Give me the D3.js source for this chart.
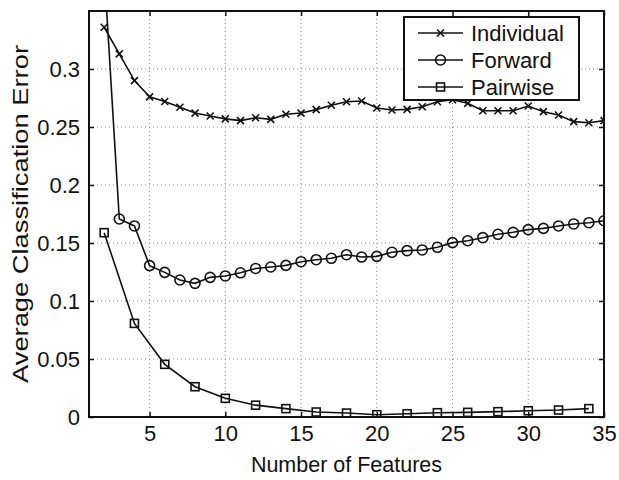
<!DOCTYPE html>
<html>
<head>
<meta charset="utf-8">
<script src="https://cdn.jsdelivr.net/npm/d3@7"></script>
<style>
  html, body { margin: 0; padding: 0; background: #fff; }
  svg { display: block; }
  text { font-family: "Liberation Sans", Arial, Helvetica, sans-serif; fill: #111; }
</style>
</head>
<body>
<svg id="chart" width="619" height="480"></svg>
<script>
// ---- data ----
const features = [2,3,4,5,6,7,8,9,10,11,12,13,14,15,16,17,18,19,20,21,22,23,24,25,26,27,28,29,30,31,32,33,34,35];
const individual = [0.336,0.313,0.290,0.276,0.272,0.267,0.262,0.2595,0.257,0.2555,0.258,0.2566,0.261,0.262,0.265,0.2687,0.2718,0.2724,0.2664,0.2647,0.2652,0.2675,0.2718,0.2735,0.2704,0.264,0.264,0.264,0.2681,0.2632,0.2603,0.2546,0.2537,0.2555];
const forward = [0.386,0.1707,0.1647,0.1305,0.1247,0.1181,0.1152,0.1204,0.1216,0.1243,0.128,0.1293,0.1307,0.1339,0.1356,0.1368,0.1399,0.1379,0.1385,0.142,0.1434,0.144,0.1463,0.1503,0.152,0.1546,0.1575,0.1592,0.1615,0.1626,0.1647,0.1664,0.1675,0.1692];
const pairwiseFeatures = [2,4,6,8,10,12,14,16,18,20,22,24,26,28,30,32,34];
const pairwise = [0.1589,0.0807,0.0454,0.0261,0.0161,0.0102,0.0072,0.0043,0.0034,0.002,0.0028,0.0037,0.004,0.0046,0.0054,0.006,0.0072];
const xTicks = [5,10,15,20,25,30,35];
const yTicks = [0,0.05,0.1,0.15,0.2,0.25,0.3];
const seriesNames = ["Individual","Forward","Pairwise"];
const xLabel = "Number of Features";
const yLabel = "Average Classification Error";

// ---- layout ----
const L = 89, R = 604, T = 11, B = 417;
const svg = d3.select("#chart");
const x = d3.scaleLinear().domain([1, 35]).range([L, R]);
const y = d3.scaleLinear().domain([0, 0.35]).range([B, T]);

svg.append("defs").append("clipPath").attr("id","clip")
  .append("rect").attr("x", L).attr("y", T).attr("width", R - L).attr("height", B - T);

// grid
const grid = svg.append("g");
grid.selectAll(".gx").data(xTicks.filter(d => d < 35)).enter().append("line")
  .attr("x1", d => x(d)).attr("x2", d => x(d)).attr("y1", T).attr("y2", B)
  .attr("stroke", "#888").attr("stroke-width", 1).attr("stroke-dasharray", "1,3");
grid.selectAll(".gy").data(yTicks.filter(d => d > 0)).enter().append("line")
  .attr("y1", d => y(d)).attr("y2", d => y(d)).attr("x1", L).attr("x2", R)
  .attr("stroke", "#888").attr("stroke-width", 1).attr("stroke-dasharray", "1,3");

// axes (ticks inward, MATLAB style)
const fontSize = 22;
const xAxisB = d3.axisBottom(x).tickValues(xTicks).tickSize(-5).tickPadding(8).tickFormat(d3.format("d"));
const xAxisT = d3.axisTop(x).tickValues(xTicks).tickSize(-5).tickFormat("");
const yAxisL = d3.axisLeft(y).tickValues(yTicks).tickSize(-5).tickPadding(9).tickFormat(d => d === 0 ? "0" : String(d));
const yAxisR = d3.axisRight(y).tickValues(yTicks).tickSize(-5).tickFormat("");

function styleAxis(g) {
  g.select(".domain").remove();
  g.selectAll(".tick line").attr("stroke", "#111").attr("stroke-width", 1.5);
  g.selectAll("text").attr("font-size", fontSize).attr("fill", "#111")
    .attr("font-family", "'Liberation Sans', Arial, sans-serif");
}
svg.append("g").attr("transform", `translate(0,${B})`).call(xAxisB).call(styleAxis);
svg.append("g").attr("transform", `translate(0,${T})`).call(xAxisT).call(styleAxis);
svg.append("g").attr("transform", `translate(${L},0)`).call(yAxisL).call(styleAxis);
svg.append("g").attr("transform", `translate(${R},0)`).call(yAxisR).call(styleAxis);

// data
const plot = svg.append("g").attr("clip-path", "url(#clip)");
const line = d3.line().x(d => x(d[0])).y(d => y(d[1]));
const indData = features.map((f, i) => [f, individual[i]]);
const fwdData = features.map((f, i) => [f, forward[i]]);
const pwData = pairwiseFeatures.map((f, i) => [f, pairwise[i]]);

function drawLine(data) {
  plot.append("path").datum(data).attr("d", line)
    .attr("fill", "none").attr("stroke", "#111").attr("stroke-width", 1.6);
}
drawLine(indData); drawLine(fwdData); drawLine(pwData);

function crossMarker(g, cx, cy, s) {
  g.append("path").attr("d", `M${cx-s},${cy-s}L${cx+s},${cy+s}M${cx-s},${cy+s}L${cx+s},${cy-s}`)
    .attr("stroke", "#111").attr("stroke-width", 1.6).attr("fill", "none");
}
function circleMarker(g, cx, cy, r) {
  g.append("circle").attr("cx", cx).attr("cy", cy).attr("r", r)
    .attr("stroke", "#111").attr("stroke-width", 1.6).attr("fill", "none");
}
function squareMarker(g, cx, cy, h) {
  g.append("rect").attr("x", cx - h).attr("y", cy - h).attr("width", 2*h).attr("height", 2*h)
    .attr("stroke", "#111").attr("stroke-width", 1.6).attr("fill", "none");
}
indData.forEach(d => { if (d[1] <= 0.35) crossMarker(plot, x(d[0]), y(d[1]), 3.5); });
fwdData.forEach(d => { if (d[1] <= 0.35) circleMarker(plot, x(d[0]), y(d[1]), 5); });
pwData.forEach(d => squareMarker(plot, x(d[0]), y(d[1]), 4));

// frame
svg.append("rect").attr("x", L).attr("y", T).attr("width", R - L).attr("height", B - T)
  .attr("fill", "none").attr("stroke", "#111").attr("stroke-width", 2);

// legend
const lg = svg.append("g");
const lx = 404, ly = 17, lw = 175, lh = 83;
lg.append("rect").attr("x", lx).attr("y", ly).attr("width", lw).attr("height", lh)
  .attr("fill", "#fff").attr("stroke", "#111").attr("stroke-width", 2);
const markers = [crossMarker, circleMarker, squareMarker];
const msize = [3.5, 5, 4];
seriesNames.forEach((name, i) => {
  const cy = ly + 16 + i * 27;
  lg.append("line").attr("x1", lx + 14).attr("x2", lx + 59).attr("y1", cy).attr("y2", cy)
    .attr("stroke", "#111").attr("stroke-width", 1.6);
  markers[i](lg, lx + 36.5, cy, msize[i]);
  lg.append("text").attr("x", lx + 67).attr("y", cy).attr("dy", "0.35em")
    .attr("font-size", 22).text(name);
});

// axis labels
svg.append("text").attr("x", (L + R) / 2).attr("y", 472).attr("text-anchor", "middle")
  .attr("font-size", 21.5).text(xLabel);
svg.append("text").attr("transform", `translate(28,${(T + B) / 2}) rotate(-90)`)
  .attr("text-anchor", "middle").attr("font-size", 22)
  .attr("textLength", 338).attr("lengthAdjust", "spacingAndGlyphs").text(yLabel);
</script>
</body>
</html>
